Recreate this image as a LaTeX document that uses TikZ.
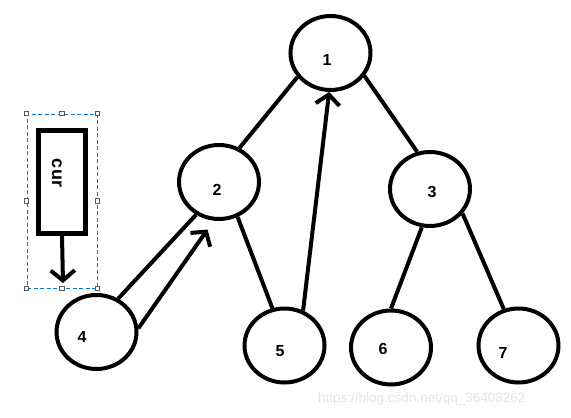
\documentclass[tikz,border=0pt]{standalone}
\usepackage{fontspec}
\setmainfont{Liberation Sans}
\usetikzlibrary{shapes.geometric,arrows.meta}
\definecolor{selblue}{RGB}{0,120,215}
\definecolor{wmgray}{RGB}{228,228,228}
\begin{document}
\begin{tikzpicture}[x=1pt,y=-1pt,
  tn/.style={ellipse,draw,line width=4pt,inner sep=0pt,minimum width=80pt,minimum height=74pt},
  lab/.style={font=\bfseries\fontsize{16}{16}\selectfont,inner sep=0pt},
  edge/.style={line width=4pt},
  arr/.style={line width=4pt,-{Straight Barb[length=10pt,width=24pt]}},
  handle/.style={rectangle,draw=black!65,fill=white,line width=0.8pt,minimum size=4.5pt,inner sep=0pt}
]
\useasboundingbox (0,0) rectangle (571,418);

% watermark
\node[text=wmgray,font=\fontsize{13.5}{14}\selectfont,anchor=west,inner sep=0pt] (wm) at (318,399) {https://blog.csdn.net/qq\_36408262};

% tree nodes
\node[tn] (n1) at (330.5,53) {};
\node[tn] (n2) at (219,182) {};
\node[tn] (n3) at (430,189) {};
\node[tn] (n4) at (96.5,332) {};
\node[tn] (n5) at (284.5,345.5) {};
\node[tn] (n6) at (391,347.5) {};
\node[tn] (n7) at (518.5,345.5) {};

% labels
\node[lab] (l1) at (327,60) {1};
\node[lab] (l2) at (217,190) {2};
\node[lab] (l3) at (432,192) {3};
\node[lab] (l4) at (82,337) {4};
\node[lab] (l5) at (280,351) {5};
\node[lab] (l6) at (383,349) {6};
\node[lab] (l7) at (503,353) {7};

% tree edges
\draw[edge] (n1.216.7) -- (n2.59.7);
\draw[edge] (n1.326) -- (n3.109.4);
\draw[edge] (n2.298) -- (n5.108.4);
\draw[edge] (n3.258.4) -- (n6.90);
\draw[edge] (n3.323) -- (n7.112);

% arrows
\draw[arr] (n5.62.4) -- (n1.268);
\draw[edge] (n4.57.5) -- (n2.235.6);
\draw[arr] (n4.5.5) -- ([yshift=-10pt]n2.253);

% cur pointer
\node[rectangle,draw,line width=5pt,minimum width=47pt,minimum height=103pt,inner sep=0pt] (cur) at (62,182) {};
\node[rotate=-90,font=\bfseries\fontsize{18}{18}\selectfont,inner sep=0pt] (curtxt) at (57,173) {cur};
\coordinate (curend) at (63,283);
\draw[arr] (cur.south) -- (curend);

% selection frame
\node[rectangle,draw=selblue,line width=1pt,dash pattern=on 4pt off 2.5pt,minimum width=70pt,minimum height=174pt,inner sep=0pt] (sel) at (62,201) {};
\foreach \a/\k in {north west/1,north/2,north east/3,west/4,east/5,south west/6,south/7,south east/8}
  \node[handle] (h\k) at (sel.\a) {};
\end{tikzpicture}
\end{document}
